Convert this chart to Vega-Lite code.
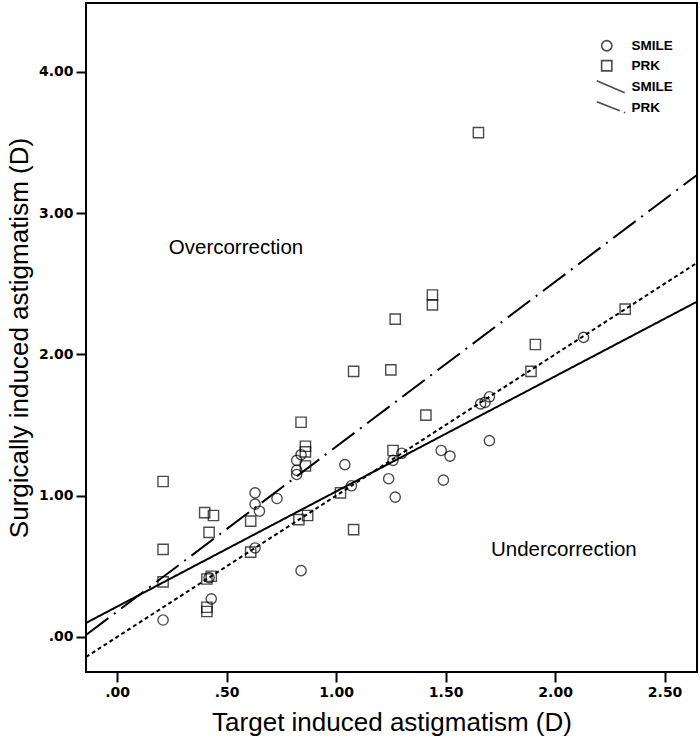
{
  "$schema": "https://vega.github.io/schema/vega-lite/v6.json",
  "width": 611,
  "height": 669,
  "autosize": {"type": "none"},
  "padding": {"left": 86, "top": 3, "right": 3, "bottom": 73},
  "background": "white",
  "config": {
    "view": {"stroke": "black", "strokeWidth": 2},
    "axis": {
      "domain": false,
      "grid": false,
      "ticks": true,
      "tickSize": 10,
      "tickWidth": 2,
      "tickColor": "black",
      "labelFont": "DejaVu Sans",
      "labelFontWeight": "bold",
      "labelFontSize": 14,
      "labelColor": "black",
      "labelPadding": 3,
      "titleFont": "Liberation Sans",
      "titleFontSize": 26,
      "titleFontWeight": "normal",
      "titleColor": "black"
    }
  },
  "datasets": {
    "points": [
      {"group": "SMILE", "target": 0.21, "sia": 0.12},
      {"group": "SMILE", "target": 0.42, "sia": 0.42},
      {"group": "SMILE", "target": 0.43, "sia": 0.27},
      {"group": "SMILE", "target": 0.63, "sia": 1.02},
      {"group": "SMILE", "target": 0.63, "sia": 0.94},
      {"group": "SMILE", "target": 0.65, "sia": 0.89},
      {"group": "SMILE", "target": 0.73, "sia": 0.98},
      {"group": "SMILE", "target": 0.63, "sia": 0.63},
      {"group": "SMILE", "target": 0.82, "sia": 1.25},
      {"group": "SMILE", "target": 0.82, "sia": 1.18},
      {"group": "SMILE", "target": 0.82, "sia": 1.15},
      {"group": "SMILE", "target": 0.84, "sia": 1.29},
      {"group": "SMILE", "target": 0.84, "sia": 0.47},
      {"group": "SMILE", "target": 1.04, "sia": 1.22},
      {"group": "SMILE", "target": 1.07, "sia": 1.07},
      {"group": "SMILE", "target": 1.24, "sia": 1.12},
      {"group": "SMILE", "target": 1.26, "sia": 1.25},
      {"group": "SMILE", "target": 1.3, "sia": 1.3},
      {"group": "SMILE", "target": 1.27, "sia": 0.99},
      {"group": "SMILE", "target": 1.48, "sia": 1.32},
      {"group": "SMILE", "target": 1.52, "sia": 1.28},
      {"group": "SMILE", "target": 1.49, "sia": 1.11},
      {"group": "SMILE", "target": 1.66, "sia": 1.65},
      {"group": "SMILE", "target": 1.68, "sia": 1.66},
      {"group": "SMILE", "target": 1.7, "sia": 1.7},
      {"group": "SMILE", "target": 1.7, "sia": 1.39},
      {"group": "SMILE", "target": 2.13, "sia": 2.12},
      {"group": "PRK", "target": 0.21, "sia": 1.1},
      {"group": "PRK", "target": 0.21, "sia": 0.62},
      {"group": "PRK", "target": 0.21, "sia": 0.39},
      {"group": "PRK", "target": 0.4, "sia": 0.88},
      {"group": "PRK", "target": 0.44, "sia": 0.86},
      {"group": "PRK", "target": 0.42, "sia": 0.74},
      {"group": "PRK", "target": 0.41, "sia": 0.41},
      {"group": "PRK", "target": 0.43, "sia": 0.43},
      {"group": "PRK", "target": 0.41, "sia": 0.21},
      {"group": "PRK", "target": 0.41, "sia": 0.18},
      {"group": "PRK", "target": 0.61, "sia": 0.82},
      {"group": "PRK", "target": 0.61, "sia": 0.6},
      {"group": "PRK", "target": 0.84, "sia": 1.52},
      {"group": "PRK", "target": 0.86, "sia": 1.35},
      {"group": "PRK", "target": 0.86, "sia": 1.31},
      {"group": "PRK", "target": 0.86, "sia": 1.21},
      {"group": "PRK", "target": 0.83, "sia": 0.83},
      {"group": "PRK", "target": 0.87, "sia": 0.86},
      {"group": "PRK", "target": 1.02, "sia": 1.02},
      {"group": "PRK", "target": 1.08, "sia": 0.76},
      {"group": "PRK", "target": 1.08, "sia": 1.88},
      {"group": "PRK", "target": 1.25, "sia": 1.89},
      {"group": "PRK", "target": 1.26, "sia": 1.32},
      {"group": "PRK", "target": 1.27, "sia": 2.25},
      {"group": "PRK", "target": 1.41, "sia": 1.57},
      {"group": "PRK", "target": 1.44, "sia": 2.35},
      {"group": "PRK", "target": 1.44, "sia": 2.42},
      {"group": "PRK", "target": 1.65, "sia": 3.57},
      {"group": "PRK", "target": 1.89, "sia": 1.88},
      {"group": "PRK", "target": 1.91, "sia": 2.07},
      {"group": "PRK", "target": 2.32, "sia": 2.32}
    ],
    "lines": [
      {"series": "SMILE", "target": -0.142, "sia": 0.099},
      {"series": "SMILE", "target": 2.648, "sia": 2.373},
      {"series": "PRK", "target": -0.142, "sia": 0.014},
      {"series": "PRK", "target": 2.648, "sia": 3.27},
      {"series": "Identity", "target": -0.142, "sia": -0.142},
      {"series": "Identity", "target": 2.648, "sia": 2.648}
    ],
    "notes": [
      {"target": 0.543, "sia": 2.75, "label": "Overcorrection"},
      {"target": 2.04, "sia": 0.616, "label": "Undercorrection"}
    ]
  },
  "layer": [
    {
      "data": {"name": "lines"},
      "mark": {"type": "line", "color": "black", "clip": true},
      "encoding": {
        "x": {"field": "target", "type": "quantitative", "scale": {"domain": [-0.142, 2.648], "nice": false, "zero": false}, "axis": {"values": [0, 0.5, 1, 1.5, 2, 2.5], "labelExpr": "datum.value < 1 ? substring(format(datum.value, '.2f'), 1) : format(datum.value, '.2f')", "title": "Target induced astigmatism (D)", "titlePadding": 10}},
        "y": {"field": "sia", "type": "quantitative", "scale": {"domain": [-0.248, 4.487], "nice": false, "zero": false}, "axis": {"values": [0, 1, 2, 3, 4], "labelExpr": "datum.value < 1 ? substring(format(datum.value, '.2f'), 1) : format(datum.value, '.2f')", "title": "Surgically induced astigmatism (D)", "titlePadding": 6}},
        "strokeDash": {"field": "series", "type": "nominal", "scale": {"domain": ["SMILE", "PRK", "Identity"], "range": [[1, 0], [28, 7, 2, 7], [4, 3]]}, "legend": null},
        "strokeWidth": {"field": "series", "type": "nominal", "scale": {"domain": ["SMILE", "PRK", "Identity"], "range": [2, 2, 1.2]}, "legend": null}
      }
    },
    {
      "data": {"name": "points"},
      "mark": {"type": "point", "filled": false, "color": "black", "strokeWidth": 1.4, "size": 105},
      "encoding": {
        "x": {"field": "target", "type": "quantitative"},
        "y": {"field": "sia", "type": "quantitative"},
        "shape": {
          "field": "group",
          "type": "nominal",
          "scale": {
            "domain": ["SMILE", "PRK", "SMILE line", "PRK line"],
            "range": ["circle", "square", "M-1.95,-1.17L3.5,1.17", "M-1.95,-1.17L2.54,0.59M3.35,0.9L3.6,0.98"]
          },
          "legend": {
            "title": null,
            "orient": "none",
            "legendX": 514,
            "legendY": 36,
            "padding": 0,
            "symbolSize": 105,
            "symbolStrokeWidth": 1.6,
            "symbolStrokeColor": "black",
            "symbolFillColor": "transparent",
            "labelFont": "Liberation Sans",
            "labelFontWeight": "bold",
            "labelFontSize": 13.5,
            "labelColor": "black",
            "labelOffset": 18,
            "rowPadding": 2,
            "labelExpr": "replace(datum.label, ' line', '')"
          }
        }
      }
    },
    {
      "data": {"name": "notes"},
      "mark": {"type": "text", "font": "Liberation Sans", "fontSize": 20.5, "color": "black", "align": "center", "baseline": "middle"},
      "encoding": {
        "x": {"field": "target", "type": "quantitative"},
        "y": {"field": "sia", "type": "quantitative"},
        "text": {"field": "label", "type": "nominal"}
      }
    }
  ]
}
